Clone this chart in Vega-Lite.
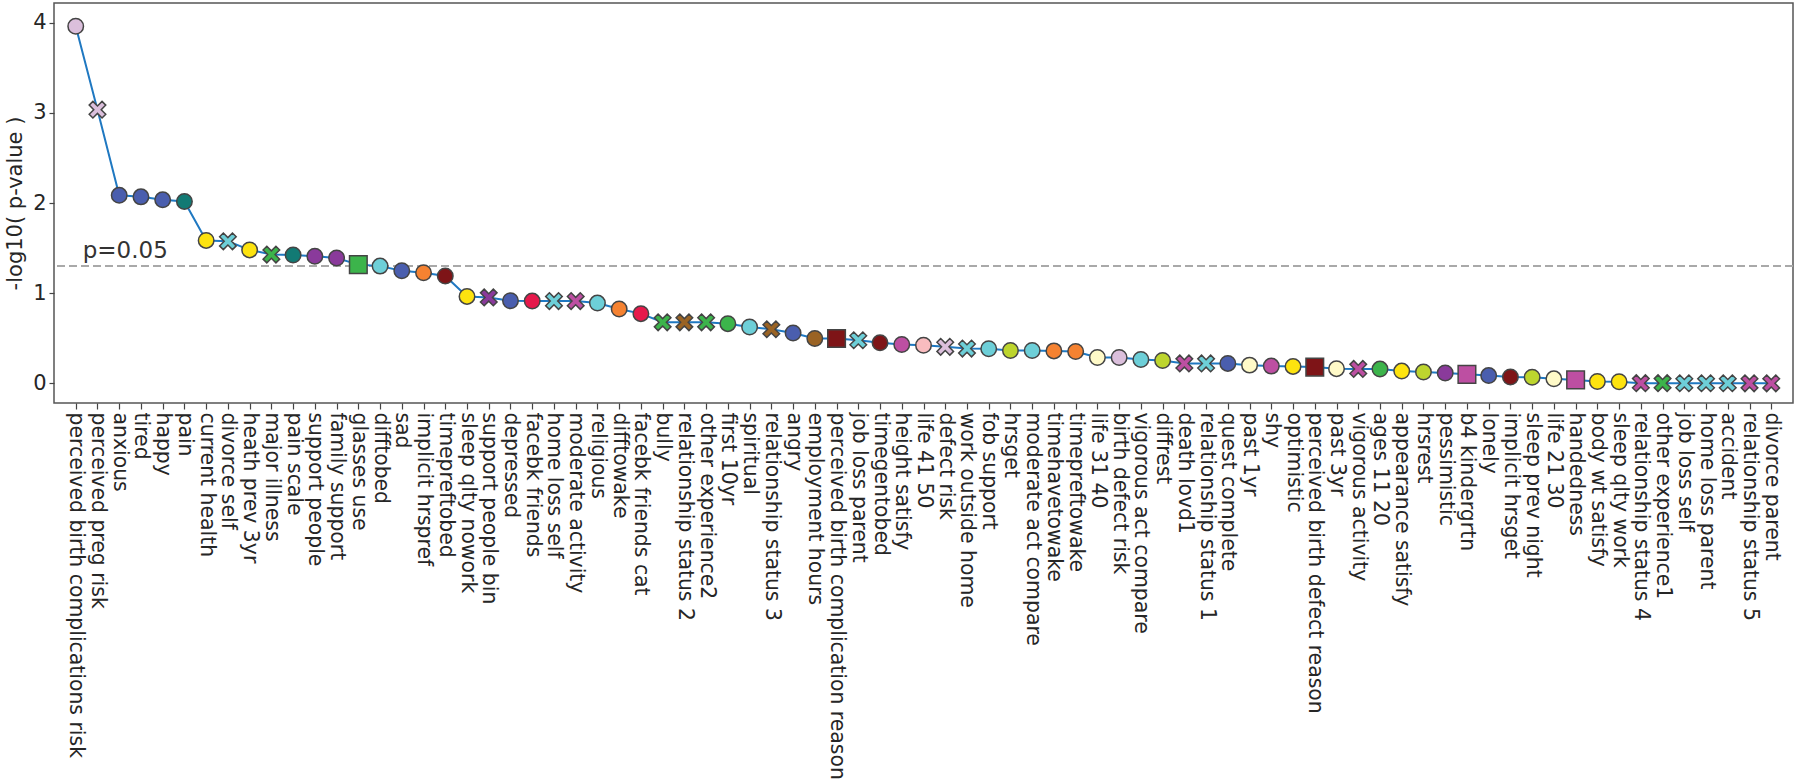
{
  "$schema": "https://vega.github.io/schema/vega-lite/v6.json",
  "width": 1739,
  "height": 400,
  "autosize": {"type": "none"},
  "padding": {"left": 54, "top": 3, "right": 7, "bottom": 377},
  "background": "white",
  "config": {
    "font": "DejaVu Sans",
    "view": {"stroke": "#555555", "strokeWidth": 1.5},
    "axis": {"labelColor": "#262626", "titleColor": "#262626", "tickColor": "#444444", "tickWidth": 1.2, "domain": false, "grid": false}
  },
  "data": {
    "values": [
      {"name": "perceived birth complications risk", "v": 3.96, "c": "th", "m": "o"},
      {"name": "perceived preg risk", "v": 3.035, "c": "th", "m": "X"},
      {"name": "anxious", "v": 2.085, "c": "bl", "m": "o"},
      {"name": "tired", "v": 2.068, "c": "bl", "m": "o"},
      {"name": "happy", "v": 2.035, "c": "bl", "m": "o"},
      {"name": "pain", "v": 2.016, "c": "te", "m": "o"},
      {"name": "current health", "v": 1.585, "c": "ye", "m": "o"},
      {"name": "divorce self", "v": 1.575, "c": "cy", "m": "X"},
      {"name": "heath prev 3yr", "v": 1.48, "c": "ye", "m": "o"},
      {"name": "major illness", "v": 1.428, "c": "gr", "m": "X"},
      {"name": "pain scale", "v": 1.424, "c": "te", "m": "o"},
      {"name": "support people", "v": 1.41, "c": "pu", "m": "o"},
      {"name": "family support", "v": 1.39, "c": "pu", "m": "o"},
      {"name": "glasses use", "v": 1.317, "c": "gr", "m": "s"},
      {"name": "difftobed", "v": 1.3, "c": "cy", "m": "o"},
      {"name": "sad", "v": 1.248, "c": "bl", "m": "o"},
      {"name": "implicit hrspref", "v": 1.227, "c": "or", "m": "o"},
      {"name": "timepreftobed", "v": 1.19, "c": "ma", "m": "o"},
      {"name": "sleep qlty nowork", "v": 0.964, "c": "ye", "m": "o"},
      {"name": "support people bin", "v": 0.953, "c": "pu", "m": "X"},
      {"name": "depressed", "v": 0.916, "c": "bl", "m": "o"},
      {"name": "facebk friends", "v": 0.912, "c": "cr", "m": "o"},
      {"name": "home loss self", "v": 0.912, "c": "cy", "m": "X"},
      {"name": "moderate activity", "v": 0.912, "c": "mg", "m": "X"},
      {"name": "religious", "v": 0.89, "c": "cy", "m": "o"},
      {"name": "difftowake", "v": 0.824, "c": "or", "m": "o"},
      {"name": "facebk friends cat", "v": 0.773, "c": "cr", "m": "o"},
      {"name": "bully", "v": 0.677, "c": "gr", "m": "X"},
      {"name": "relationship status 2", "v": 0.677, "c": "br", "m": "X"},
      {"name": "other experience2", "v": 0.677, "c": "gr", "m": "X"},
      {"name": "first 10yr", "v": 0.662, "c": "gr", "m": "o"},
      {"name": "spiritual", "v": 0.625, "c": "cy", "m": "o"},
      {"name": "relationship status 3", "v": 0.6, "c": "br", "m": "X"},
      {"name": "angry", "v": 0.559, "c": "bl", "m": "o"},
      {"name": "employment hours", "v": 0.498, "c": "br", "m": "o"},
      {"name": "perceived birth complication reason", "v": 0.498, "c": "ma", "m": "s"},
      {"name": "job loss parent", "v": 0.478, "c": "cy", "m": "X"},
      {"name": "timegentobed", "v": 0.449, "c": "ma", "m": "o"},
      {"name": "height satisfy", "v": 0.43, "c": "mg", "m": "o"},
      {"name": "life 41 50", "v": 0.423, "c": "pk", "m": "o"},
      {"name": "defect risk", "v": 0.405, "c": "th", "m": "X"},
      {"name": "work outside home", "v": 0.386, "c": "cy", "m": "X"},
      {"name": "fob support", "v": 0.383, "c": "cy", "m": "o"},
      {"name": "hrsget", "v": 0.364, "c": "lg", "m": "o"},
      {"name": "moderate act compare", "v": 0.364, "c": "cy", "m": "o"},
      {"name": "timehavetowake", "v": 0.36, "c": "or", "m": "o"},
      {"name": "timepreftowake", "v": 0.353, "c": "or", "m": "o"},
      {"name": "life 31 40", "v": 0.287, "c": "cm", "m": "o"},
      {"name": "birth defect risk", "v": 0.287, "c": "th", "m": "o"},
      {"name": "vigorous act compare", "v": 0.265, "c": "cy", "m": "o"},
      {"name": "diffrest", "v": 0.254, "c": "lg", "m": "o"},
      {"name": "death lovd1", "v": 0.221, "c": "mg", "m": "X"},
      {"name": "relationship status 1", "v": 0.221, "c": "cy", "m": "X"},
      {"name": "quest complete", "v": 0.221, "c": "bl", "m": "o"},
      {"name": "past 1yr", "v": 0.202, "c": "cm", "m": "o"},
      {"name": "shy", "v": 0.191, "c": "mg", "m": "o"},
      {"name": "optimistic", "v": 0.188, "c": "ye", "m": "o"},
      {"name": "perceived birth defect reason", "v": 0.18, "c": "ma", "m": "s"},
      {"name": "past 3yr", "v": 0.163, "c": "cm", "m": "o"},
      {"name": "vigorous activity", "v": 0.16, "c": "mg", "m": "X"},
      {"name": "ages 11 20", "v": 0.158, "c": "gr", "m": "o"},
      {"name": "appearance satisfy", "v": 0.136, "c": "ye", "m": "o"},
      {"name": "hrsrest", "v": 0.125, "c": "lg", "m": "o"},
      {"name": "pessimistic", "v": 0.115, "c": "pu", "m": "o"},
      {"name": "b4 kindergrtn", "v": 0.1, "c": "mg", "m": "s"},
      {"name": "lonely", "v": 0.086, "c": "bl", "m": "o"},
      {"name": "implicit hrsget", "v": 0.07, "c": "ma", "m": "o"},
      {"name": "sleep prev night", "v": 0.068, "c": "lg", "m": "o"},
      {"name": "life 21 30", "v": 0.05, "c": "cm", "m": "o"},
      {"name": "handedness", "v": 0.038, "c": "mg", "m": "s"},
      {"name": "body wt satisfy", "v": 0.02, "c": "ye", "m": "o"},
      {"name": "sleep qlty work", "v": 0.018, "c": "ye", "m": "o"},
      {"name": "relationship status 4", "v": 0.002, "c": "mg", "m": "X"},
      {"name": "other experience1", "v": 0.002, "c": "gr", "m": "X"},
      {"name": "job loss self", "v": 0.001, "c": "cy", "m": "X"},
      {"name": "home loss parent", "v": 0.001, "c": "cy", "m": "X"},
      {"name": "accident", "v": 0.001, "c": "cy", "m": "X"},
      {"name": "relationship status 5", "v": 0.0005, "c": "mg", "m": "X"},
      {"name": "divorce parent", "v": 0.0003, "c": "mg", "m": "X"}
    ]
  },
  "encoding": {
    "x": {
      "field": "name", "type": "nominal", "sort": null,
      "scale": {"type": "point", "padding": 1},
      "axis": {"title": null, "labelAngle": 90, "labelFontSize": 20.4, "labelOverlap": false, "labelLimit": 0, "labelBound": false, "tickSize": 6, "labelPadding": 3, "labelAlign": "left", "labelBaseline": "middle"}
    },
    "y": {
      "field": "v", "type": "quantitative",
      "scale": {"domain": [-0.218, 4.218], "nice": false, "zero": false},
      "axis": {"title": "-log10( p-value )", "values": [0, 1, 2, 3, 4], "labelFontSize": 21, "titleFontSize": 21, "titleFontWeight": "normal", "tickSize": 5, "labelPadding": 3, "titlePadding": 7}
    }
  },
  "layer": [
    {
      "mark": {"type": "rule", "color": "#a9a9a9", "strokeDash": [8, 4], "strokeWidth": 2},
      "encoding": {"x": null, "y": {"datum": 1.30103}}
    },
    {
      "mark": {"type": "line", "color": "#1f78c1", "strokeWidth": 2}
    },
    {
      "mark": {"type": "point", "filled": true, "opacity": 1, "stroke": "#444444", "strokeWidth": 1.5},
      "encoding": {
        "color": {
          "field": "c", "type": "nominal", "legend": null,
          "scale": {
            "domain": ["th", "bl", "te", "ye", "cy", "gr", "pu", "or", "ma", "cr", "mg", "br", "pk", "lg", "cm"],
            "range": ["#dbbfdc", "#4a5eae", "#127a74", "#fde30f", "#6dcfd8", "#3cb44b", "#8a3a9b", "#f58231", "#7e1417", "#e6194b", "#bd4fa2", "#9a6324", "#f9bcbf", "#bdd52e", "#fffac8"]
          }
        },
        "shape": {
          "field": "m", "type": "nominal", "legend": null,
          "scale": {
            "domain": ["o", "X", "s"],
            "range": ["circle", "M-0.55,-1L0,-0.45L0.55,-1L1,-0.55L0.45,0L1,0.55L0.55,1L0,0.45L-0.55,1L-1,0.55L-0.45,0L-1,-0.55Z", "square"]
          }
        },
        "size": {
          "field": "m", "type": "nominal", "legend": null,
          "scale": {"domain": ["o", "X", "s"], "range": [240, 310, 240]}
        }
      }
    },
    {
      "transform": [{"filter": {"field": "name", "equal": "perceived birth complications risk"}}],
      "mark": {"type": "text", "align": "left", "baseline": "alphabetic", "dx": 7, "dy": -8, "fontSize": 23, "color": "#333333"},
      "encoding": {"y": {"datum": 1.30103}, "text": {"value": "p=0.05"}}
    }
  ]
}
